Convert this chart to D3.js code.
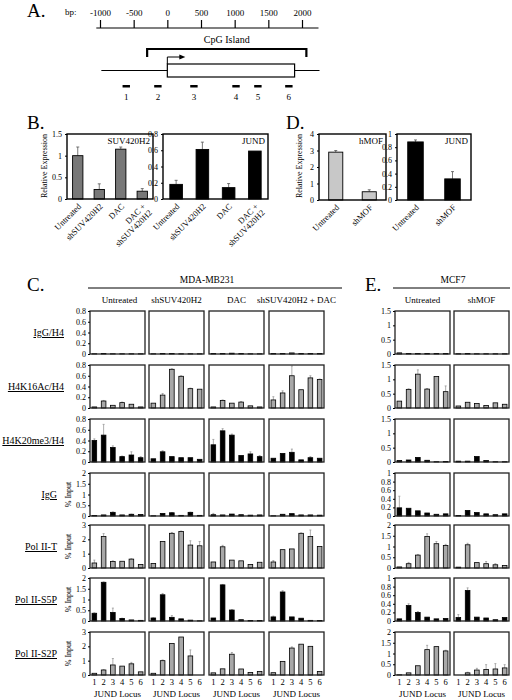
<!DOCTYPE html>
<html><head><meta charset="utf-8">
<script src="https://cdn.jsdelivr.net/npm/d3@7"></script>
<style>body{margin:0;background:#fff}svg{display:block;font-family:"Liberation Serif","Times New Roman",serif}</style>
</head><body><svg id="c" width="512" height="700"></svg>
<script>
// ---------- DATA ----------
// Panel A (bp coordinates)
const bpTicks = [-1000, -500, 0, 500, 1000, 1500, 2000];
const lineExtent = [-980, 2260];
const cpgIsland = [-300, 2065];
const geneBox = [0, 1890];
const ampliconNames = ["1", "2", "3", "4", "5", "6"];
const ampliconCenters = [-610, -140, 395, 1020, 1345, 1805];

// Panel B
const bCats = ["Untreated", "shSUV420H2", "DAC", "DAC +|shSUV420H2"];
const bSuvVals = [1.0, 0.22, 1.15, 0.18];
const bSuvErrs = [0.2, 0.13, 0.05, 0.06];
const bSuvTicks = [0, 0.5, 1, 1.5];
const bJundVals = [0.18, 0.61, 0.14, 0.59];
const bJundErrs = [0.05, 0.09, 0.05, 0.0];
const bJundTicks = [0, 0.2, 0.4, 0.6, 0.8];

// Panel D
const dCats = ["Untreated", "shMOF"];
const dMofVals = [2.9, 0.5];
const dMofErrs = [0.1, 0.12];
const dMofTicks = [0, 1, 2, 3, 4];
const dJundVals = [0.88, 0.32];
const dJundErrs = [0.03, 0.11];
const dJundTicks = [0, 0.2, 0.4, 0.6, 0.8, 1];

// Panels C / E
const loci = ["1", "2", "3", "4", "5", "6"];
const mdaTreatments = ["Untreated", "shSUV420H2", "DAC", "shSUV420H2 + DAC"];
const mcfTreatments = ["Untreated", "shMOF"];
const rowLabels = ["IgG/H4", "H4K16Ac/H4", "H4K20me3/H4", "IgG", "Pol II-T", "Pol II-S5P", "Pol II-S2P"];

const mdaTicks = [
  [0, 0.2, 0.4, 0.6, 0.8], [0, 0.2, 0.4, 0.6, 0.8], [0, 0.2, 0.4, 0.6, 0.8],
  [0, 0.5, 1, 1.5, 2], [0, 1, 2, 3], [0, 0.5, 1, 1.5, 2], [0, 1, 2, 3]
];
const mcfTicks = [
  [0, 0.5, 1, 1.5], [0, 0.5, 1, 1.5], [0, 0.5, 1, 1.5],
  [0, 0.2, 0.4, 0.6, 0.8, 1], [0, 0.5, 1, 1.5, 2], [0, 0.2, 0.4, 0.6, 0.8, 1], [0, 0.5, 1, 1.5, 2]
];

// MDA-MB231 values (4 treatments x 6 loci)
const igGH4Mda = [[0.005,0.01,0.005,0.005,0.005,0.005],[0.005,0.01,0.01,0.005,0.005,0.005],[0.01,0.01,0.015,0.01,0.005,0.005],[0.01,0.01,0.02,0.01,0.01,0.01]];
const igGH4MdaErr = [[0,0,0,0,0,0],[0,0,0,0,0,0],[0,0,0,0,0,0],[0,0,0,0,0,0]];
const h4k16Mda = [[0.02,0.13,0.05,0.10,0.07,0.02],[0.09,0.24,0.72,0.59,0.36,0.35],[0.02,0.14,0.09,0.11,0.04,0.02],[0.15,0.28,0.60,0.34,0.56,0.53]];
const h4k16MdaErr = [[0,0.01,0,0.01,0,0],[0,0.03,0.01,0.01,0.01,0],[0,0.01,0,0.01,0,0],[0.06,0.04,0.18,0,0.04,0.01]];
const h4k20Mda = [[0.40,0.50,0.27,0.10,0.13,0.08],[0.06,0.19,0.10,0.08,0.08,0.05],[0.32,0.58,0.50,0.12,0.15,0.10],[0.07,0.16,0.18,0.04,0.08,0.07]];
const h4k20MdaErr = [[0.03,0.20,0.03,0.01,0.06,0.02],[0,0.02,0,0,0,0],[0.10,0.04,0.02,0,0.04,0.02],[0,0,0.06,0,0.02,0]];
const igGMda = [[0.02,0.05,0.17,0.05,0.08,0.07],[0.01,0.12,0.15,0.03,0.17,0.03],[0.06,0.05,0.09,0.06,0.04,0.05],[0.01,0.08,0.11,0.05,0.05,0.04]];
const igGMdaErr = [[0,0,0.02,0,0.01,0],[0,0,0.01,0,0.01,0],[0.06,0,0,0,0,0],[0,0,0,0,0,0]];
const polTMda = [[0.35,2.2,0.45,0.47,0.62,0.25],[0.32,1.85,2.42,2.55,1.6,1.55],[0.42,1.48,0.55,0.5,0.25,0.4],[0.42,1.28,1.33,2.42,2.2,1.5]];
const polTMdaErr = [[0.2,0.2,0.05,0,0.03,0],[0,0,0.06,0.03,0.3,0.3],[0,0.1,0,0,0,0],[0.1,0,0,0.03,0.45,0]];
const polS5Mda = [[0.36,1.8,0.40,0.12,0.05,0.03],[0.14,1.22,0.17,0.10,0.04,0.01],[0.14,1.68,0.51,0.06,0.02,0.02],[0.19,1.35,0.19,0.13,0.03,0.02]];
const polS5MdaErr = [[0.02,0.02,0.2,0.01,0,0],[0.01,0.06,0.08,0,0,0],[0,0.02,0.02,0,0,0],[0.04,0.06,0,0,0,0]];
const polS2Mda = [[0.12,0.35,0.70,0.62,0.78,0.22],[0.12,1.0,2.2,2.65,1.33,0.0],[0.15,0.43,1.45,0.42,0.18,0.25],[0.16,0.95,1.88,2.15,2.0,0.25]];
const polS2MdaErr = [[0,0.03,0.45,0,0.1,0],[0,0.05,0,0,0.42,0],[0,0,0.12,0,0,0],[0,0,0.08,0,0,0]];

// MCF7 values (2 treatments x 6 loci)
const igGH4Mcf = [[0.04,0.02,0.02,0.02,0.02,0.02],[0.01,0.02,0.01,0.01,0.01,0.01]];
const igGH4McfErr = [[0,0,0,0,0,0],[0,0,0,0,0,0]];
const h4k16Mcf = [[0.24,0.65,1.18,0.66,1.10,0.57],[0.07,0.20,0.16,0.09,0.18,0.13]];
const h4k16McfErr = [[0,0.02,0.15,0.02,0,0.2],[0,0,0,0,0,0]];
const h4k20Mcf = [[0.05,0.07,0.16,0.06,0.01,0.02],[0.03,0.03,0.19,0.05,0.01,0.01]];
const h4k20McfErr = [[0,0,0,0,0,0],[0,0,0,0,0,0]];
const igGMcf = [[0.19,0.18,0.12,0.07,0.04,0.05],[0.01,0.13,0.08,0.05,0.03,0.05]];
const igGMcfErr = [[0.27,0,0,0,0,0],[0,0,0,0,0,0]];
const polTMcf = [[0.05,0.2,0.6,1.47,1.13,1.05],[0.04,1.08,0.25,0.2,0.15,0.12]];
const polTMcfErr = [[0,0.06,0.03,0.12,0.1,0.05],[0,0.07,0,0.1,0.05,0]];
const polS5Mcf = [[0.05,0.36,0.20,0.09,0.05,0.06],[0.08,0.71,0.09,0.07,0.03,0.08]];
const polS5McfErr = [[0,0.04,0.02,0,0,0],[0.07,0.06,0,0,0,0]];
const polS2Mcf = [[0.01,0.1,0.43,1.18,1.32,1.12],[0.0,0.1,0.23,0.26,0.28,0.33]];
const polS2McfErr = [[0,0,0,0.2,0,0.03],[0,0.03,0.08,0.22,0.25,0.15]];

// ---------- DRAW ----------
const svg = d3.select("#c");
const mdaRows = [igGH4Mda, h4k16Mda, h4k20Mda, igGMda, polTMda, polS5Mda, polS2Mda];
const mdaErrRows = [igGH4MdaErr, h4k16MdaErr, h4k20MdaErr, igGMdaErr, polTMdaErr, polS5MdaErr, polS2MdaErr];
const mcfRows = [igGH4Mcf, h4k16Mcf, h4k20Mcf, igGMcf, polTMcf, polS5Mcf, polS2Mcf];
const mcfErrRows = [igGH4McfErr, h4k16McfErr, h4k20McfErr, igGMcfErr, polTMcfErr, polS5McfErr, polS2McfErr];

function bigLetter(t, x, y) {
  svg.append("text").attr("x", x).attr("y", y).attr("font-size", 19).text(t);
}

// ----- Panel A -----
bigLetter("A.", 27, 17);
const xBp = d3.scaleLinear().domain([-1000, 2000]).range([100, 302]);
svg.append("text").attr("x", 65).attr("y", 15).attr("font-size", 9).text("bp:");
const axA = svg.append("g").attr("transform", "translate(0,28)")
  .call(d3.axisTop(xBp).tickValues(bpTicks).tickSize(8).tickPadding(4).tickFormat(d => String(d)));
axA.select(".domain").remove();
axA.selectAll("line").attr("stroke", "#000").attr("stroke-width", 1.2);
axA.selectAll("text").attr("font-size", 9).attr("font-family", "Liberation Serif").attr("fill", "#000");
svg.append("line").attr("x1", xBp(-1055)).attr("x2", xBp(2245)).attr("y1", 28).attr("y2", 28).attr("stroke", "#000").attr("stroke-width", 1.2);
// CpG island bracket
svg.append("text").attr("x", (xBp(cpgIsland[0]) + xBp(cpgIsland[1])) / 2).attr("y", 43).attr("text-anchor", "middle").attr("font-size", 10).text("CpG Island");
svg.append("path").attr("fill", "none").attr("stroke", "#000").attr("stroke-width", 2.2)
  .attr("d", `M${xBp(cpgIsland[0])},57 V49 H${xBp(cpgIsland[1])} V57`);
// gene
svg.append("line").attr("x1", xBp(lineExtent[0])).attr("x2", xBp(lineExtent[1])).attr("y1", 70.5).attr("y2", 70.5).attr("stroke", "#000").attr("stroke-width", 1);
svg.append("rect").attr("x", xBp(geneBox[0])).attr("y", 64).attr("width", xBp(geneBox[1]) - xBp(geneBox[0])).attr("height", 13)
  .attr("fill", "#fff").attr("stroke", "#000").attr("stroke-width", 1.2);
svg.append("path").attr("fill", "none").attr("stroke", "#000").attr("stroke-width", 1)
  .attr("d", `M${xBp(0)},64 V57 H${xBp(0) + 13}`);
svg.append("path").attr("fill", "#000").attr("d", `M${xBp(0) + 18},57 l-6,-2.5 v5 z`);
// amplicons
ampliconCenters.forEach((c, i) => {
  svg.append("rect").attr("x", xBp(c) - 3.7).attr("y", 85).attr("width", 7.4).attr("height", 2.5).attr("fill", "#000");
  svg.append("text").attr("x", xBp(c)).attr("y", 100).attr("text-anchor", "middle").attr("font-size", 9).text(ampliconNames[i]);
});

// ----- Panels B & D -----
function exprPanel(x0, x1, y0, y1, cats, vals, errs, ticks, fill, title, pad) {
  const g = svg.append("g");
  const xs = d3.scaleBand().domain(cats).range([x0, x1]).paddingInner(pad).paddingOuter(pad / 2);
  const ys = d3.scaleLinear().domain([0, ticks[ticks.length - 1]]).range([y1, y0]);
  cats.forEach((c, i) => {
    const cx = xs(c) + xs.bandwidth() / 2;
    if (errs[i] > 0) {
      g.append("line").attr("x1", cx).attr("x2", cx).attr("y1", ys(vals[i])).attr("y2", ys(vals[i] + errs[i])).attr("stroke", "#555").attr("stroke-width", 0.8);
      g.append("line").attr("x1", cx - 1.5).attr("x2", cx + 1.5).attr("y1", ys(vals[i] + errs[i])).attr("y2", ys(vals[i] + errs[i])).attr("stroke", "#555").attr("stroke-width", 0.8);
    }
    g.append("rect").attr("x", xs(c)).attr("y", ys(vals[i])).attr("width", xs.bandwidth()).attr("height", ys(0) - ys(vals[i]))
      .attr("fill", fill).attr("stroke", "#000").attr("stroke-width", 0.9);
    const parts = c.split("|");
    const t = g.append("text").attr("transform", `translate(${cx + 4},${y1 + 8}) rotate(-45)`).attr("text-anchor", "end").attr("font-size", 8.5);
    parts.forEach((p, k) => t.append("tspan").attr("x", 0).attr("dy", k === 0 ? 0 : "1.05em").text(p));
  });
  g.append("rect").attr("x", x0).attr("y", y0).attr("width", x1 - x0).attr("height", y1 - y0).attr("fill", "none").attr("stroke", "#000").attr("stroke-width", 1.4);
  const ax = g.append("g").attr("transform", `translate(${x0},0)`).call(d3.axisLeft(ys).tickValues(ticks).tickSize(2).tickPadding(3).tickFormat(d => String(d)));
  ax.select(".domain").remove();
  ax.selectAll("text").attr("font-size", 8).attr("font-family", "Liberation Serif").attr("fill", "#000");
  g.append("text").attr("x", x1 - 3).attr("y", y0 + 10).attr("text-anchor", "end").attr("font-size", 9).text(title);
}
bigLetter("B.", 27, 129);
exprPanel(67, 153, 134, 199, bCats, bSuvVals, bSuvErrs, bSuvTicks, "#787878", "SUV420H2", 0.52);
exprPanel(163, 268, 134, 199, bCats, bJundVals, bJundErrs, bJundTicks, "#000", "JUND", 0.52);
svg.append("text").attr("transform", "translate(47,166) rotate(-90)").attr("text-anchor", "middle").attr("font-size", 8).text("Relative Expression");
bigLetter("D.", 286, 129);
exprPanel(319, 386, 134, 200, dCats, dMofVals, dMofErrs, dMofTicks, "#c8c8c8", "hMOF", 0.58);
exprPanel(397, 471, 134, 200, dCats, dJundVals, dJundErrs, dJundTicks, "#000", "JUND", 0.58);
svg.append("text").attr("transform", "translate(302,166) rotate(-90)").attr("text-anchor", "middle").attr("font-size", 8).text("Relative Expression");

// ----- Panels C & E -----
bigLetter("C.", 27, 291);
svg.append("text").attr("x", 207).attr("y", 283).attr("text-anchor", "middle").attr("font-size", 9.5).text("MDA-MB231");
svg.append("line").attr("x1", 88).attr("x2", 342).attr("y1", 288).attr("y2", 288).attr("stroke", "#000").attr("stroke-width", 1);
bigLetter("E.", 365, 291);
svg.append("text").attr("x", 453).attr("y", 283).attr("text-anchor", "middle").attr("font-size", 9.5).text("MCF7");
svg.append("line").attr("x1", 393).attr("x2", 510).attr("y1", 288).attr("y2", 288).attr("stroke", "#000").attr("stroke-width", 1);

const mdaX = [90, 149, 209, 269];
const mcfX = [395, 454];
const colW = 55;
const rowY = [311, 365, 419, 473, 525, 578, 632];
const rowH = 43;
const rowFills = ["#a8a8a8", "#a8a8a8", "#000", "#000", "#a8a8a8", "#000", "#a8a8a8"];

function chipPanel(x, y, vals, errs, ticks, fill, showAxis, showLoci, treatment) {
  const g = svg.append("g");
  const xs = d3.scaleBand().domain(loci).range([x, x + colW]).paddingInner(0.5).paddingOuter(0.22);
  const ys = d3.scaleLinear().domain([0, ticks[ticks.length - 1]]).range([y + rowH, y]);
  loci.forEach((l, i) => {
    const cx = xs(l) + xs.bandwidth() / 2;
    if (errs[i] > 0) {
      g.append("line").attr("x1", cx).attr("x2", cx).attr("y1", ys(vals[i])).attr("y2", ys(vals[i] + errs[i])).attr("stroke", "#999").attr("stroke-width", 0.8);
      g.append("line").attr("x1", cx - 1).attr("x2", cx + 1).attr("y1", ys(vals[i] + errs[i])).attr("y2", ys(vals[i] + errs[i])).attr("stroke", "#999").attr("stroke-width", 0.8);
    }
    g.append("rect").attr("x", xs(l)).attr("y", ys(vals[i])).attr("width", xs.bandwidth()).attr("height", Math.max(0, ys(0) - ys(vals[i])))
      .attr("fill", fill).attr("stroke", "#000").attr("stroke-width", 0.8);
  });
  g.append("rect").attr("x", x).attr("y", y).attr("width", colW).attr("height", rowH).attr("fill", "none").attr("stroke", "#222").attr("stroke-width", 1.3);
  if (showAxis) {
    const ax = g.append("g").attr("transform", `translate(${x},0)`).call(d3.axisLeft(ys).tickValues(ticks).tickSize(2).tickPadding(2).tickFormat(d => String(d)));
    ax.select(".domain").remove();
    ax.selectAll("text").attr("font-size", 8).attr("font-family", "Liberation Serif").attr("fill", "#000");
  }
  if (showLoci) {
    loci.forEach(l => g.append("text").attr("x", xs(l) + xs.bandwidth() / 2).attr("y", y + rowH + 10).attr("text-anchor", "middle").attr("font-size", 8.5).text(l));
    g.append("text").attr("x", x + colW / 2).attr("y", y + rowH + 22).attr("text-anchor", "middle").attr("font-size", 9).text("JUND Locus");
  }
}

mdaTreatments.forEach((t, j) => {
  svg.append("text").attr("x", mdaX[j] + colW / 2 - (j === 0 ? -2 : 0)).attr("y", 303).attr("text-anchor", "middle").attr("font-size", 9).text(t);
});
mcfTreatments.forEach((t, j) => {
  svg.append("text").attr("x", mcfX[j] + colW / 2).attr("y", 303).attr("text-anchor", "middle").attr("font-size", 9).text(t);
});

rowLabels.forEach((lab, r) => {
  const cy = rowY[r] + rowH / 2;
  const rx = r < 3 ? 64 : 57;
  svg.append("text").attr("x", rx).attr("y", cy + 3.5).attr("text-anchor", "end").attr("font-size", 10)
    .style("text-decoration", "underline").text(lab);
  if (r >= 3) {
    svg.append("text").attr("transform", `translate(71,${cy}) rotate(-90)`).attr("text-anchor", "middle").attr("font-size", 8).text("% Input");
  }
  mdaX.forEach((x, j) => chipPanel(x, rowY[r], mdaRows[r][j], mdaErrRows[r][j], mdaTicks[r], rowFills[r], j === 0, r === 6, mdaTreatments[j]));
  mcfX.forEach((x, j) => chipPanel(x, rowY[r], mcfRows[r][j], mcfErrRows[r][j], mcfTicks[r], rowFills[r], j === 0, r === 6, mcfTreatments[j]));
});
</script></body></html>
